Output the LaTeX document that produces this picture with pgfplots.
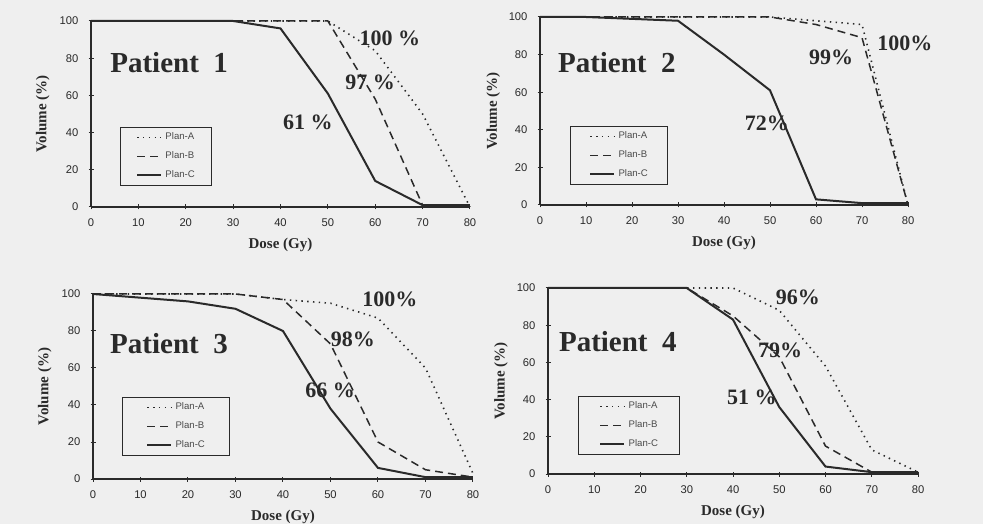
\documentclass[border=0pt]{standalone}
\usepackage{fontspec}
\setmainfont{Liberation Serif}
\setsansfont{Liberation Sans}
\usepackage{pgfplots}
\pgfplotsset{compat=1.18}

\definecolor{bg}{HTML}{EFEFEF}
\definecolor{ink}{HTML}{2A2A2A}

\pgfplotsset{
  panel/.style={
    scale only axis,
    xmin=0, xmax=80, ymin=0, ymax=100,
    xtick={0,10,...,80}, ytick={0,20,...,100},
    axis x line*=bottom, axis y line*=left,
    axis line style={draw=ink, line width=0.6pt, -},
    tick style={draw=ink, line width=0.5pt},
    tick align=center, major tick length=2.5pt,
    ticklabel style={font=\sffamily\fontsize{5.6}{6}\selectfont, text=ink},
    xticklabel style={yshift=-1.2pt},
    yticklabel style={xshift=-1.5pt},
    /pgf/number format/assume math mode=true,
    xlabel={Dose (Gy)}, ylabel={Volume (\%)},
    label style={font=\bfseries\fontsize{7.5}{8}\selectfont, text=ink},
    xlabel style={at={(axis description cs:0.5,0)}, anchor=center, yshift=-19pt},
    ylabel style={at={(axis description cs:-0.127,0.5)}, anchor=center},
    legend style={draw=ink, fill=none, line width=0.4pt,
      font=\sffamily\fontsize{4.8}{5.5}\selectfont, text=ink!85,
      anchor=north west, inner ysep=0.4pt, column sep=1.2pt,
      nodes={inner xsep=0.4pt, inner ysep=2.2pt}},
    legend cell align=left,
    clip=false,
  },
  planA/.style={draw=ink, line width=0.8pt, dash pattern=on 0.7pt off 2.2pt,
    legend image code/.code={\draw[##1] (0pt,0pt) -- (12pt,0pt);}},
  planB/.style={draw=ink, line width=0.75pt, dash pattern=on 4pt off 2.5pt,
    legend image code/.code={\draw[##1] (0pt,0pt) -- (12pt,0pt);}},
  planC/.style={draw=ink, line width=1pt,
    legend image code/.code={\draw[##1] (0pt,0pt) -- (12pt,0pt);}},
}
\tikzset{
  pat/.style={font=\bfseries\fontsize{14.5}{16}\selectfont, text=ink},
  pct/.style={font=\bfseries\fontsize{11}{13}\selectfont, text=ink},
}

\begin{document}
\begin{tikzpicture}
\path[use as bounding box, fill=bg] (0,0) rectangle (491.5pt,262pt);

% Patient 1
\begin{axis}[panel, at={(45.5pt,158.5pt)}, anchor=origin,
  width=189.5pt, height=93pt,
  legend style={at={(axis cs:6.1,43)}, inner xsep=8pt}]
\addplot[planA] coordinates {(0,100) (10,100) (20,100) (30,100) (40,100) (50,100) (60,84) (70,50) (80,0)};
\addplot[planB] coordinates {(0,100) (10,100) (20,100) (30,100) (40,100) (50,100) (60,58) (70,1) (80,1)};
\addplot[planC] coordinates {(0,100) (10,100) (20,100) (30,100) (40,96) (50,61) (60,14) (70,1) (80,1)};
\legend{Plan-A,Plan-B,Plan-C}
\node[pat] at (axis cs:16.5,77.4) {Patient\ \ 1};
\node[pct] at (axis cs:63.1,90.9) {100 \%};
\node[pct] at (axis cs:58.9,67) {97 \%};
\node[pct] at (axis cs:45.8,45.7) {61 \%};
\end{axis}

% Patient 2
\begin{axis}[panel, at={(270pt,159.5pt)}, anchor=origin,
  width=184pt, height=94pt,
  legend style={at={(axis cs:6.5,42)}, inner xsep=9.5pt}]
\addplot[planA] coordinates {(0,100) (10,100) (20,100) (30,100) (40,100) (50,100) (60,98) (70,96) (80,0)};
\addplot[planB] coordinates {(0,100) (10,100) (20,100) (30,100) (40,100) (50,100) (60,96) (70,89) (80,0)};
\addplot[planC] coordinates {(0,100) (10,100) (20,99) (30,98) (40,80) (50,61) (60,3) (70,1) (80,1)};
\legend{Plan-A,Plan-B,Plan-C}
\node[pat] at (axis cs:16.7,76) {Patient\ \ 2};
\node[pct] at (axis cs:63.3,78.7) {99\%};
\node[pct] at (axis cs:79.3,86) {100\%};
\node[pct] at (axis cs:49.3,43.6) {72\%};
\end{axis}

% Patient 3
\begin{axis}[panel, at={(46.5pt,22.5pt)}, anchor=origin,
  width=190pt, height=92.5pt,
  legend style={at={(axis cs:6.1,44.3)}, inner xsep=12pt}]
\addplot[planA] coordinates {(0,100) (10,100) (20,100) (30,100) (40,97) (50,95) (60,87) (70,60) (80,3)};
\addplot[planB] coordinates {(0,100) (10,100) (20,100) (30,100) (40,97) (50,73) (60,20) (70,5) (80,1)};
\addplot[planC] coordinates {(0,100) (10,98) (20,96) (30,92) (40,80) (50,38) (60,6) (70,1) (80,1)};
\legend{Plan-A,Plan-B,Plan-C}
\node[pat] at (axis cs:16,73) {Patient\ \ 3};
\node[pct] at (axis cs:62.5,97.3) {100\%};
\node[pct] at (axis cs:54.7,75.7) {98\%};
\node[pct] at (axis cs:49.9,48) {66 \%};
\end{axis}

% Patient 4
\begin{axis}[panel, at={(274pt,25pt)}, anchor=origin,
  width=185pt, height=93pt,
  legend style={at={(axis cs:6.5,41.9)}, inner xsep=10.5pt}]
\addplot[planA] coordinates {(0,100) (10,100) (20,100) (30,100) (40,100) (50,88) (60,58) (70,13) (80,1)};
\addplot[planB] coordinates {(0,100) (10,100) (20,100) (30,100) (40,85) (50,63) (60,15) (70,1) (80,1)};
\addplot[planC] coordinates {(0,100) (10,100) (20,100) (30,100) (40,83) (50,36) (60,4) (70,1) (80,1)};
\legend{Plan-A,Plan-B,Plan-C}
\node[pat] at (axis cs:15.1,71) {Patient\ \ 4};
\node[pct] at (axis cs:54,95) {96\%};
\node[pct] at (axis cs:50.2,66.7) {79\%};
\node[pct] at (axis cs:44.1,41.4) {51 \%};
\end{axis}
\end{tikzpicture}
\end{document}
